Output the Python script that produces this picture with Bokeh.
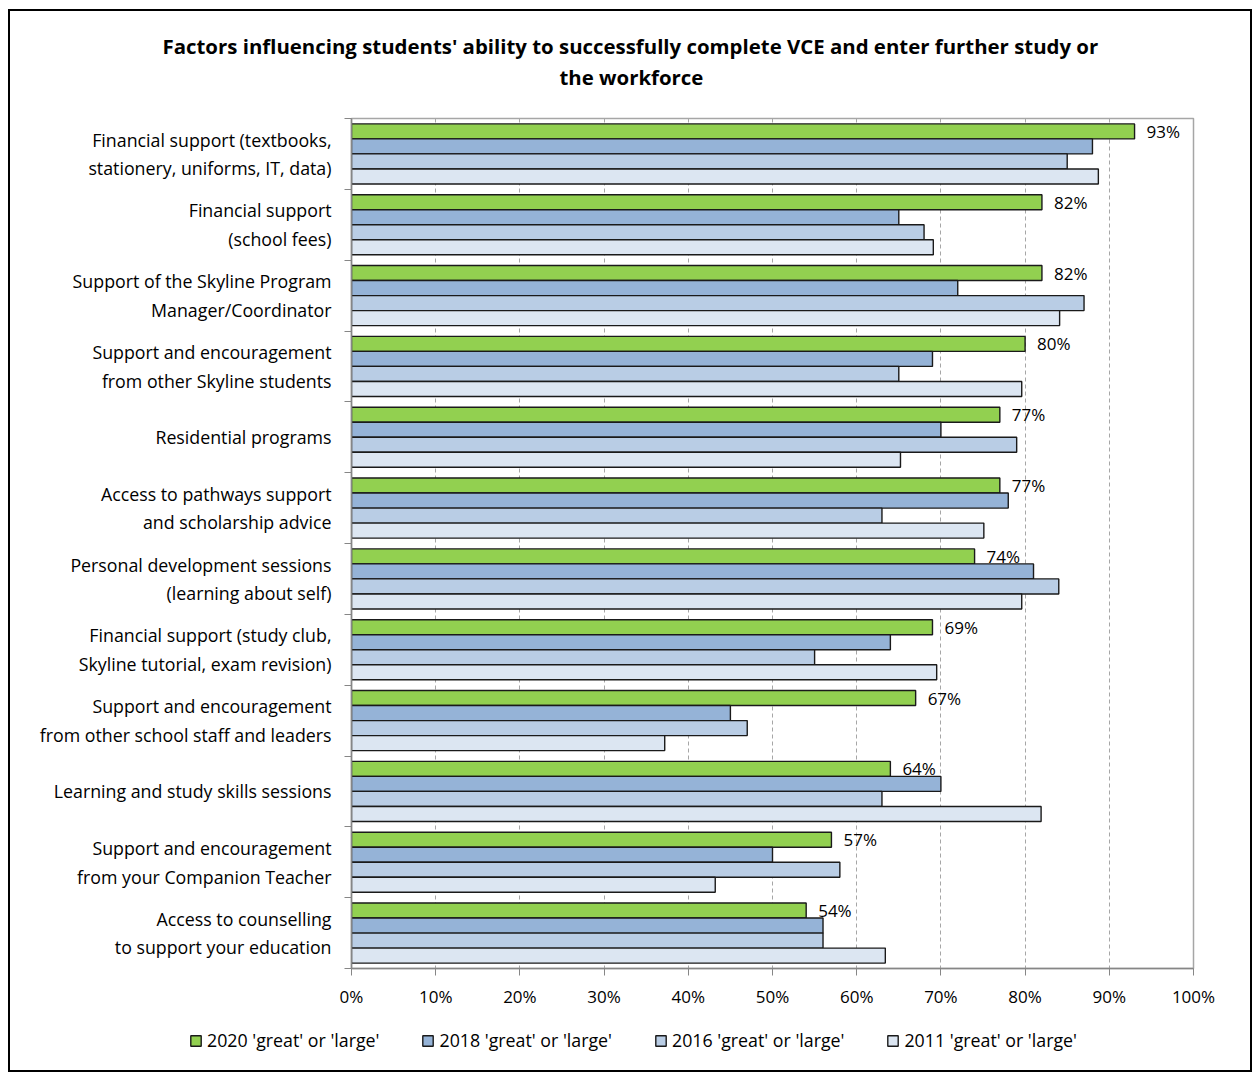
from bokeh.plotting import figure
from bokeh.layouts import column
from bokeh.models import Range1d, FixedTicker, Legend, LegendItem, ColumnDataSource, PrintfTickFormatter, Title
from bokeh.core.properties import value
from bokeh.transform import dodge
from bokeh.embed import file_html
from bokeh.resources import INLINE

categories = [
    "Financial support (textbooks,\nstationery, uniforms, IT, data)",
    "Financial support\n(school fees)",
    "Support of the Skyline Program\nManager/Coordinator",
    "Support and encouragement\nfrom other Skyline students",
    "Residential programs",
    "Access to pathways support\nand scholarship advice",
    "Personal development sessions\n(learning about self)",
    "Financial support (study club,\nSkyline tutorial, exam revision)",
    "Support and encouragement\nfrom other school staff and leaders",
    "Learning and study skills sessions",
    "Support and encouragement\nfrom your Companion Teacher",
    "Access to counselling\nto support your education",
]
v2020 = [93, 82, 82, 80, 77, 77, 74, 69, 67, 64, 57, 54]
v2018 = [88, 65, 72, 69, 70, 78, 81, 64, 45, 70, 50, 56]
v2016 = [85, 68, 87, 65, 79, 63, 84, 55, 47, 63, 58, 56]
v2011 = [88.7, 69.1, 84.1, 79.6, 65.2, 75.1, 79.6, 69.5, 37.2, 81.9, 43.2, 63.4]
series_names = ["2020 'great' or 'large'", "2018 'great' or 'large'",
                "2016 'great' or 'large'", "2011 'great' or 'large'"]
colors = ["#92D050", "#95B3D7", "#B9CDE5", "#DCE6F2"]
x_ticks = list(range(0, 101, 10))
title_line1 = "Factors influencing students' ability to successfully complete VCE and enter further study or"
title_line2 = "the workforce"

FONT = "Open Sans"
BAR_LINE = dict(line_color="#1a1a1a", line_width=1.4)
idx = list(range(len(categories)))
src = ColumnDataSource(dict(
    idx=idx, v2020=v2020, v2018=v2018, v2016=v2016, v2011=v2011,
    lbl=[f"{v}%" for v in v2020],
))

p = figure(frame_width=842, frame_height=850, output_backend="svg", toolbar_location=None,
           x_range=Range1d(0, 100), y_range=Range1d(len(categories) - 0.5, -0.5),
           min_border_left=341, min_border_right=57, min_border_top=107, min_border_bottom=45)

# title: line 1 is the figure's title (outermost); below it line 2, then a spacer
title_style = dict(text_font=FONT, text_font_size="20.4px", text_font_style="bold", text_color="black")
p.title.text = title_line1
p.title.align = "left"
p.title.offset = -189
p.title.standoff = 0
p.title.text_font = FONT
p.title.text_font_size = "20.4px"
p.title.text_font_style = "bold"
p.title.text_color = "black"
p.add_layout(Title(text=" ", align="left", standoff=23, text_font_size="2px"), "above")
p.add_layout(Title(text=title_line2, align="left", offset=208, standoff=2, **title_style), "above")

bar_h = 0.212
offsets = [-1.5 * bar_h, -0.5 * bar_h, 0.5 * bar_h, 1.5 * bar_h]
cols = ["v2020", "v2018", "v2016", "v2011"]
for col, off, c in zip(cols, offsets, colors):
    p.hbar(y=dodge("idx", off, range=p.y_range), right=col, left=0, height=bar_h,
           source=src, fill_color=c, **BAR_LINE)

p.text(x="v2020", y=dodge("idx", offsets[0], range=p.y_range), text="lbl", source=src,
       x_offset=12, text_baseline="middle", text_align="left",
       text_font=value(FONT), text_font_size="17px", text_color="black")

# axes
axc = "#868686"
p.xaxis.ticker = FixedTicker(ticks=x_ticks)
p.xaxis.formatter = PrintfTickFormatter(format="%d%%")
p.xaxis.major_tick_out = 7
p.xaxis.major_tick_in = 0
p.xaxis.minor_tick_line_color = None
p.xaxis.axis_line_color = axc
p.xaxis.axis_line_width = 1.5
p.xaxis.major_tick_line_color = axc
p.xaxis.major_label_text_font = FONT
p.xaxis.major_label_text_font_size = "17px"
p.xaxis.major_label_text_color = "black"
p.xaxis.major_label_standoff = 9

p.yaxis.ticker = FixedTicker(ticks=idx, minor_ticks=[i - 0.5 for i in range(len(categories) + 1)])
p.yaxis.major_label_overrides = {i: c for i, c in zip(idx, categories)}
p.yaxis.major_tick_out = 0
p.yaxis.major_tick_in = 0
p.yaxis.minor_tick_out = 7
p.yaxis.minor_tick_in = 0
p.yaxis.minor_tick_line_color = axc
p.yaxis.axis_line_color = axc
p.yaxis.axis_line_width = 1.5
p.yaxis.major_label_text_font = FONT
p.yaxis.major_label_text_font_size = "17.8px"
p.yaxis.major_label_text_color = "black"
p.yaxis.major_label_standoff = 13

p.xgrid.grid_line_color = "#A6A6A6"
p.xgrid.grid_line_dash = "4 3"
p.ygrid.grid_line_color = None
p.outline_line_color = "#A6A6A6"
p.outline_line_width = 1.5

# legend strip below the chart; swatch renderers hold a single NaN row (nothing drawn in the strip)
leg = figure(frame_width=1240, frame_height=57, output_backend="svg", toolbar_location=None,
             x_axis_location=None, y_axis_location=None, min_border=0,
             x_range=Range1d(0, 1), y_range=Range1d(0, 1))
leg.grid.visible = False
leg.outline_line_color = None
nan_src = ColumnDataSource(dict(y=[float("nan")], right=[float("nan")]))
items = []
for c, name in zip(colors, series_names):
    r = leg.hbar(y="y", right="right", left=0, height=0.1, source=nan_src, fill_color=c, **BAR_LINE)
    items.append(LegendItem(label=name, renderers=[r]))
legend = Legend(items=items, orientation="horizontal", location=(179, 18),
                border_line_color=None, background_fill_alpha=0,
                glyph_width=13, glyph_height=13,
                label_standoff=5, spacing=42, label_text_font=FONT,
                label_text_font_size="17.8px", label_text_color="black",
                margin=0, padding=0)
leg.add_layout(legend, "center")

layout = column(p, leg, spacing=0,
                styles={"border": "2px solid black", "margin-left": "8px", "margin-top": "9px"})

open("out.html", "w").write(file_html(layout, INLINE))
